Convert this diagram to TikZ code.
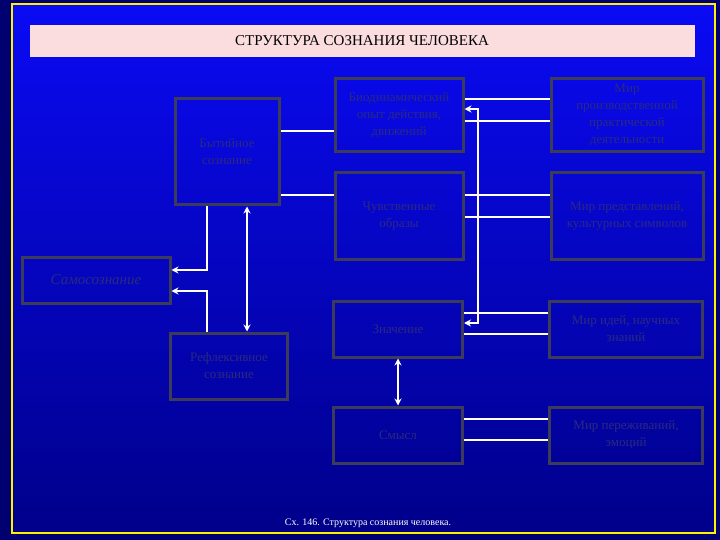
\documentclass[tikz,border=0pt]{standalone}
\usepackage{fontspec}
\setmainfont{Liberation Serif}
\usetikzlibrary{arrows.meta}
\definecolor{bgtop}{HTML}{0A0AF5}
\definecolor{bgbot}{HTML}{00008A}
\definecolor{outer}{HTML}{000070}
\definecolor{boxline}{HTML}{3C3C5A}
\definecolor{boxtext}{HTML}{2A2A80}
\definecolor{titlebg}{HTML}{FBDDE0}
\tikzset{
  box/.style={draw=boxline,line width=3pt,inner sep=0pt,text=boxtext,align=center,font=\fontsize{13}{17}\selectfont},
  conn/.style={draw=white,line width=1.6pt},
  arr/.style={conn,-{Stealth[length=7pt,width=7pt]}},
  darr/.style={conn,{Stealth[length=7pt,width=7pt]}-{Stealth[length=7pt,width=7pt]}}
}
\begin{document}
\begin{tikzpicture}[x=1pt,y=-1pt]
\useasboundingbox (0,0) rectangle (720,540);
\fill[outer] (0,0) rectangle (720,540);
\shade[top color=bgtop,bottom color=bgbot] (12,4) rectangle (715,533);
\draw[yellow,line width=1.5pt] (12,4) rectangle (715,533);
\node[fill=titlebg,minimum width=665pt,minimum height=32pt,inner sep=0pt,font=\fontsize{15}{18}\selectfont] (title) at (362,41) {СТРУКТУРА СОЗНАНИЯ ЧЕЛОВЕКА};
% boxes
\node[box,minimum width=104pt,minimum height=106pt] (byt) at (227,152) {Бытийное\\сознание};
\node[box,minimum width=128pt,minimum height=73pt] (bio) at (399,115) {Биодинамический\\опыт действия,\\движений};
\node[box,minimum width=152pt,minimum height=73pt] (m1) at (627,115) {Мир\\производственной\\практической\\деятельности};
\node[box,minimum width=128pt,minimum height=86pt] (chu) at (399,216) {Чувственные\\образы};
\node[box,minimum width=152pt,minimum height=86pt] (m2) at (627,216) {Мир представлений,\\культурных символов};
\node[box,minimum width=148pt,minimum height=46pt,font=\itshape\fontsize{15}{18}\selectfont] (sam) at (96,280) {Самосознание};
\node[box,minimum width=117pt,minimum height=66pt] (ref) at (229,366) {Рефлексивное\\сознание};
\node[box,minimum width=129pt,minimum height=56pt] (zn) at (398,329) {Значение};
\node[box,minimum width=153pt,minimum height=56pt] (m3) at (626,329) {Мир идей, научных\\знаний};
\node[box,minimum width=129pt,minimum height=56pt] (sm) at (398,435) {Смысл};
\node[box,minimum width=153pt,minimum height=56pt] (m4) at (626,435) {Мир переживаний,\\эмоций};
\node[white,font=\fontsize{10}{12}\selectfont] (cap) at (368,523) {Сх. 146. Структура сознания человека.};
% connectors
\draw[conn] (byt.east |- 0,131) -- (bio.west |- 0,131);
\draw[conn] (byt.east |- 0,195) -- (chu.west |- 0,195);
\draw[conn] (bio.east |- 0,99) -- (m1.west |- 0,99);
\draw[conn] (bio.east |- 0,121) -- (m1.west |- 0,121);
\draw[conn] (chu.east |- 0,195) -- (m2.west |- 0,195);
\draw[conn] (chu.east |- 0,217) -- (m2.west |- 0,217);
\draw[conn] (zn.east |- 0,313) -- (m3.west |- 0,313);
\draw[conn] (zn.east |- 0,334) -- (m3.west |- 0,334);
\draw[conn] (sm.east |- 0,419) -- (m4.west |- 0,419);
\draw[conn] (sm.east |- 0,440) -- (m4.west |- 0,440);
\coordinate (vtop) at (478,109);
\coordinate (vbot) at (478,323);
\draw[darr] (bio.east |- vtop) -- (vtop) -- (vbot) -- (zn.east |- vbot);
\draw[arr] (byt.south -| 207,0) -- (207,270) -- (sam.east |- 0,270);
\draw[arr] (ref.north -| 207,0) -- (207,291) -- (sam.east |- 0,291);
\draw[darr] (byt.south -| 247,0) -- (ref.north -| 247,0);
\draw[darr] (zn.south) -- (sm.north);
\end{tikzpicture}
\end{document}
